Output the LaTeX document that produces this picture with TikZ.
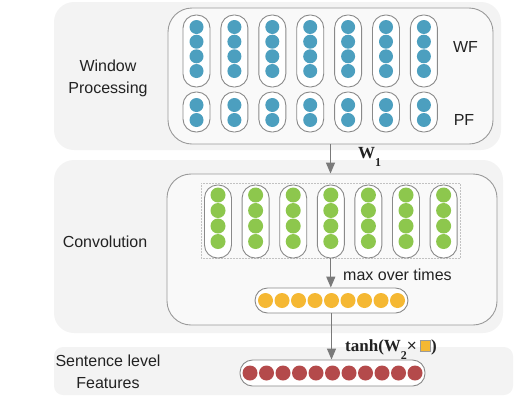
\documentclass[tikz,border=0pt]{standalone}
\usepackage{fontspec}
\setmainfont{Liberation Sans}
\newfontfamily\tms{Liberation Serif}
\usetikzlibrary{arrows.meta,calc}
\definecolor{panelgray}{HTML}{F3F3F3}
\definecolor{boxfill}{HTML}{F9F9F9}
\definecolor{boxline}{HTML}{9A9A9A}
\definecolor{pillline}{HTML}{8A8A8A}
\definecolor{arrowgray}{HTML}{7A7A7A}
\definecolor{dotblue}{HTML}{4C9FBF}
\definecolor{dotgreen}{HTML}{8DC74D}
\definecolor{dotorange}{HTML}{F5B833}
\definecolor{dotred}{HTML}{B44A4B}
\definecolor{txt}{HTML}{222222}
\setlength{\fboxsep}{0pt}
\setlength{\fboxrule}{0.7pt}
\begin{document}
\begin{tikzpicture}[x=1pt,y=-1pt,
  innerbox/.style={draw=boxline, fill=boxfill, line width=0.9pt, rounded corners=24pt, inner sep=0pt},
  vpill/.style={draw=pillline, fill=white, line width=0.9pt, rounded corners=13pt, minimum width=27pt, inner sep=0pt},
  hpill/.style={draw=pillline, fill=white, line width=0.9pt, rounded corners=12.5pt, minimum height=25pt, inner sep=0pt},
  dot/.style={circle, inner sep=0pt, minimum size=14pt},
  conn/.style={draw=arrowgray, line width=1.3pt, -{Triangle[width=9pt,length=11pt]}},
  lbl/.style={text=txt, font=\fontsize{16}{22}\selectfont, inner sep=0pt},
  mathlbl/.style={text=txt, font=\fontsize{17}{20}\tms\bfseries, inner sep=0pt}
]
\useasboundingbox (0,0) rectangle (516,416);
% background panels
\fill[panelgray, rounded corners=20pt] (54,2) rectangle (501,150);
\fill[panelgray, rounded corners=20pt] (54,160) rectangle (503,333);
\fill[panelgray, rounded corners=9pt] (54,347) rectangle (513,395);
% inner boxes
\node[innerbox, minimum width=325pt, minimum height=136pt] (wpbox) at (330.5,76) {};
\node[innerbox, minimum width=330pt, minimum height=151pt] (cvbox) at (332,249.5) {};
\draw[boxline!60, densely dotted, line width=0.5pt] (201,183) rectangle (460,258);
% window processing pills
\foreach \i in {0,...,6} {
  \pgfmathsetmacro\cx{196.5+37.9*\i}
  \node[vpill, minimum height=72pt] (wf\i) at (\cx,51) {};
  \foreach \j/\yy in {1/27,2/41.7,3/56.3,4/71}
    \node[dot, fill=dotblue] (wf\i d\j) at (\cx,\yy) {};
  \node[vpill, minimum height=40pt] (pf\i) at (\cx,112) {};
  \foreach \j/\yy in {1/105,2/120}
    \node[dot, fill=dotblue] (pf\i d\j) at (\cx,\yy) {};
}
% convolution pills
\foreach \i in {0,...,6} {
  \pgfmathsetmacro\cx{218+37.6*\i}
  \node[vpill, minimum height=73pt] (cv\i) at (\cx,221.5) {};
  \foreach \j/\yy in {1/195,2/210.5,3/226,4/241.5}
    \node[dot, minimum size=15pt, fill=dotgreen] (cv\i d\j) at (\cx,\yy) {};
}
% max pooled
\node[hpill, minimum width=153pt] (maxp) at (331.5,300.5) {};
\foreach \k in {0,...,8}
  \node[dot, minimum size=15pt, fill=dotorange] (mx\k) at (265.5+16.5*\k,300.5) {};
% sentence level features
\node[hpill, minimum width=185pt, minimum height=26pt] (sent) at (332.5,373) {};
\foreach \k in {0,...,10}
  \node[dot, minimum size=15pt, fill=dotred] (sf\k) at (250+16.5*\k,373) {};
% connectors
\draw[conn] (wpbox.south) -- (wpbox.south |- cvbox.north);
\draw[conn] (cv3.south) -- (cv3.south |- maxp.north);
\draw[conn] (maxp.south) -- (maxp.south |- sent.north);
% labels
\node[lbl, align=center] (wplbl) at (108,78) {Window\\Processing};
\node[lbl] (cvlbl) at (105,242) {Convolution};
\node[lbl, align=center] (sllbl) at (108,372) {Sentence level\\Features};
\node[lbl] (wflbl) at (465.5,47) {WF};
\node[lbl] (pflbl) at (464,120) {PF};
\node[lbl, anchor=west] (mxlbl) at (343,275) {max over times};
\node[mathlbl, anchor=base west] (w1lbl) at (358,158) {W\raisebox{-8pt}{\fontsize{12}{12}\selectfont 1}};
\node[mathlbl, anchor=base west] (tanhlbl) at (345,351) {tanh(W\raisebox{-8pt}{\fontsize{12}{12}\selectfont 2}{\rmfamily\mdseries\fontsize{17}{17}\selectfont ×}\,\fcolorbox{boxline}{dotorange}{\rule{0pt}{10pt}\hspace{10pt}})};
\end{tikzpicture}
\end{document}
